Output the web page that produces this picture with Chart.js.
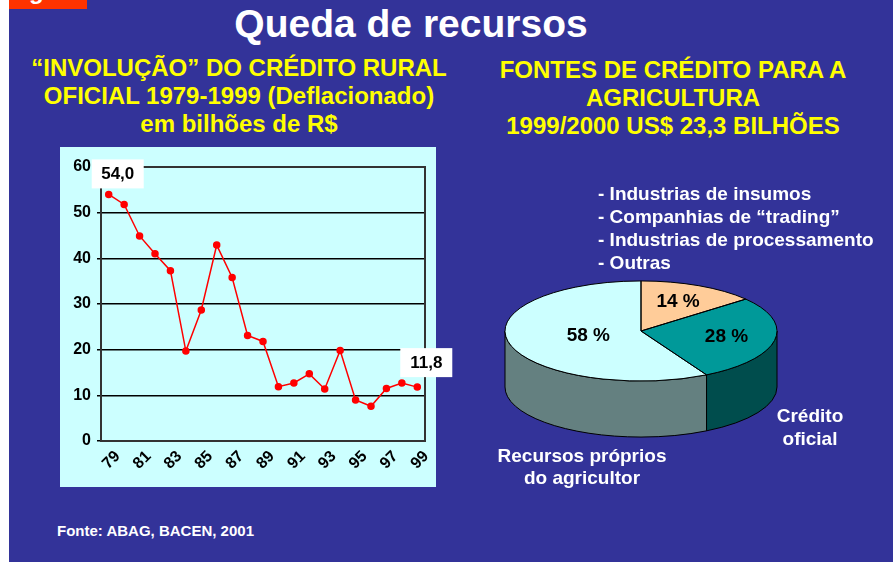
<!doctype html>
<html lang="pt">
  <head>
    <meta charset="utf-8">
    <title>Queda de recursos</title>
    <style>
      * {
        margin: 0;
        padding: 0;
        font-family: "Liberation Sans", Arial, sans-serif;
      }
      body {
        position: relative;
        width: 893px;
        height: 562px;
        overflow: hidden;
        background: #fff;
      }
      .slide {
        position: absolute;
        left: 9px;
        top: 0;
        width: 884px;
        height: 562px;
        background: #333399;
      }
      .tag {
        position: absolute;
        left: 9px;
        top: 0;
        width: 78px;
        height: 9px;
        background: #FF3300;
        overflow: hidden;
      }
      .tag span {
        position: absolute;
        left: 20px;
        top: -22px;
        color: #fff;
        font-weight: bold;
        font-size: 24px;
        line-height: 26px;
      }
      .txt {
        position: absolute;
        font-weight: bold;
        white-space: nowrap;
      }
      .title {
        left: 0;
        width: 822px;
        top: 2px;
        text-align: center;
        color: #fff;
        font-size: 39px;
        line-height: 44px;
      }
      .sub {
        color: #FFFF00;
        font-size: 24px;
        line-height: 28px;
        text-align: center;
        width: 460px;
      }
      .white {
        color: #fff;
        font-size: 19px;
        line-height: 23px;
      }
      .panel {
        position: absolute;
        left: 60px;
        top: 147px;
        width: 376px;
        height: 340px;
        background: #CCFFFF;
      }
      #lineChart {
        position: absolute;
        left: 60px;
        top: 147px;
      }
      #pieChart {
        position: absolute;
        left: 501px;
        top: 191px;
      }
    </style>
  </head>
  <body>
    <div class="slide"></div>
    <div class="tag"><span>g</span></div>
    <div class="txt title">Queda de recursos</div>
    <div class="txt sub" style="left:9px; top:54px;">“INVOLUÇÃO” DO CRÉDITO RURAL<br>OFICIAL 1979-1999 (Deflacionado)<br>em bilhões de R$</div>
    <div class="txt sub" style="left:443px; top:56px;">FONTES DE CRÉDITO PARA A<br>AGRICULTURA<br>1999/2000 US$ 23,3 BILHÕES</div>
    <div class="panel"></div>
    <canvas id="lineChart" width="410" height="340"></canvas>
    <canvas id="pieChart" width="280" height="280"></canvas>
    <div class="txt white" style="left:598px; top:182px;">- Industrias de insumos<br>- Companhias de “trading”<br>- Industrias de processamento<br>- Outras</div>
    <div class="txt white" style="left:760px; width:100px; top:404px; text-align:center;">Crédito<br>oficial</div>
    <div class="txt white" style="left:482px; width:200px; top:445px; line-height:22px; text-align:center;">Recursos próprios<br>do agricultor</div>
    <div class="txt" style="left:57px; top:522px; color:#fff; font-size:15px; line-height:18px;">Fonte: ABAG, BACEN, 2001</div>

    <script src="https://cdn.jsdelivr.net/npm/chart.js/dist/chart.umd.min.js"></script>
    <script>
      // data
      const years = ['79', '80', '81', '82', '83', '84', '85', '86', '87', '88', '89',
                     '90', '91', '92', '93', '94', '95', '96', '97', '98', '99'];
      const credito = [54.0, 51.8, 44.9, 41.0, 37.3, 19.7, 28.7, 42.9, 35.8, 23.1, 21.8,
                       11.9, 12.7, 14.7, 11.4, 19.8, 9.0, 7.6, 11.5, 12.7, 11.8];
      const yTicks = [0, 10, 20, 30, 40, 50, 60];
      const boxedPoints = [0, 20];

      const fontes = ['Outras fontes', 'Crédito oficial', 'Recursos próprios do agricultor'];
      const shares = [14, 28, 58];

      const FONT = '"Liberation Sans", Arial, sans-serif';

      // frame round the plot area
      const frame = {
        id: 'frame',
        beforeDatasetsDraw(chart) {
          const { ctx, chartArea: a } = chart;
          ctx.save();
          ctx.strokeStyle = '#333';
          ctx.lineWidth = 2;
          ctx.strokeRect(a.left, a.top, a.right - a.left, a.bottom - a.top);
          ctx.restore();
        }
      };

      // white boxes with first / last value
      const valueBoxes = {
        id: 'valueBoxes',
        afterDatasetsDraw(chart, args, opts) {
          const { ctx } = chart;
          const pts = chart.getDatasetMeta(0).data;
          ctx.save();
          boxedPoints.forEach((idx, k) => {
            const p = pts[idx];
            const cx = p.x + opts.dx[k];
            const cy = p.y + opts.dy[k];
            ctx.fillStyle = '#fff';
            ctx.fillRect(cx - 26, cy - 14, 52, 29);
            ctx.fillStyle = '#000';
            ctx.font = 'bold 17px ' + FONT;
            ctx.textAlign = 'center';
            ctx.textBaseline = 'middle';
            ctx.fillText(credito[idx].toFixed(1).replace('.', ','), cx, cy + 1);
          });
          ctx.restore();
        }
      };

      new Chart(document.getElementById('lineChart'), {
        type: 'line',
        data: {
          labels: years,
          datasets: [{
            data: credito,
            borderColor: '#FF0000',
            borderWidth: 1.5,
            pointStyle: 'circle',
            pointRadius: 3,
            pointBackgroundColor: '#FF0000',
            pointBorderColor: '#FF0000',
            tension: 0
          }]
        },
        options: {
          responsive: false,
          animation: false,
          events: [],
          layout: { padding: { top: 20, right: 45, left: 0, bottom: 0 } },
          plugins: {
            legend: { display: false },
            tooltip: { enabled: false },
            valueBoxes: { dx: [9, 9], dy: [-21, -25] }
          },
          scales: {
            x: {
              offset: true,
              grid: { display: false, drawTicks: false },
              border: { color: '#333', width: 2 },
              ticks: {
                autoSkip: false,
                minRotation: 45,
                maxRotation: 45,
                padding: 6,
                labelOffset: 9,
                color: '#000',
                font: { family: FONT, size: 16, weight: 'bold' },
                callback: (v, i) => (i % 2 === 0 ? years[i] : '')
              },
              afterFit: s => { s.height = 46; }
            },
            y: {
              min: 0,
              max: 60,
              afterBuildTicks: s => { s.ticks = yTicks.map(v => ({ value: v })); },
              grid: { color: '#000', lineWidth: 1.5, tickLength: 4 },
              border: { color: '#333', width: 2 },
              ticks: {
                padding: 6,
                color: '#000',
                font: { family: FONT, size: 16, weight: 'bold' }
              },
              afterFit: s => { s.width = 41; }
            }
          }
        },
        plugins: [frame, valueBoxes]
      });

      // flattened pie with side walls
      const pie3d = {
        id: 'pie3d',
        beforeDatasetsDraw(chart, args, opts) {
          const { ctx } = chart;
          const arcs = chart.getDatasetMeta(0).data;
          const { x, y, outerRadius: r } = arcs[0];
          const ry = r * opts.tilt;
          ctx.save();
          arcs.forEach((arc, i) => {
            const a = Math.max(arc.startAngle, 0);
            const b = Math.min(arc.endAngle, Math.PI);
            if (b <= a) return;
            ctx.beginPath();
            ctx.ellipse(x, y, r, ry, 0, a, b);
            ctx.ellipse(x, y + opts.depth, r, ry, 0, b, a, true);
            ctx.closePath();
            ctx.fillStyle = opts.sideColors[i];
            ctx.fill();
            ctx.lineWidth = 1;
            ctx.strokeStyle = '#000';
            ctx.stroke();
          });
          ctx.restore();
          ctx.save();
          ctx.translate(0, y);
          ctx.scale(1, opts.tilt);
          ctx.translate(0, -y);
        },
        afterDatasetsDraw(chart, args, opts) {
          const { ctx } = chart;
          ctx.restore();
          const arcs = chart.getDatasetMeta(0).data;
          const { x, y, outerRadius: r } = arcs[0];
          const ry = r * opts.tilt;
          ctx.save();
          ctx.lineWidth = 1;
          ctx.strokeStyle = '#000';
          arcs.forEach(arc => {
            ctx.beginPath();
            ctx.moveTo(x, y);
            ctx.ellipse(x, y, r, ry, 0, arc.startAngle, arc.endAngle);
            ctx.closePath();
            ctx.stroke();
          });
          ctx.fillStyle = '#000';
          ctx.font = 'bold 19px ' + FONT;
          ctx.textAlign = 'center';
          ctx.textBaseline = 'middle';
          arcs.forEach((arc, i) => {
            const mid = (arc.startAngle + arc.endAngle) / 2;
            const f = opts.labelRadius[i];
            ctx.fillText(shares[i] + ' %', x + Math.cos(mid) * r * f, y + Math.sin(mid) * ry * f);
          });
          ctx.restore();
        }
      };

      new Chart(document.getElementById('pieChart'), {
        type: 'pie',
        data: {
          labels: fontes,
          datasets: [{
            data: shares,
            backgroundColor: ['#FFCC99', '#009999', '#CCFFFF'],
            borderWidth: 0
          }]
        },
        options: {
          responsive: false,
          animation: false,
          events: [],
          layout: { padding: 4 },
          plugins: {
            legend: { display: false },
            tooltip: { enabled: false },
            pie3d: {
              tilt: 0.368,
              depth: 56,
              sideColors: ['#B3906B', '#004D4D', '#648080'],
              labelRadius: [0.64, 0.64, 0.4]
            }
          }
        },
        plugins: [pie3d]
      });
    </script>
  </body>
</html>
